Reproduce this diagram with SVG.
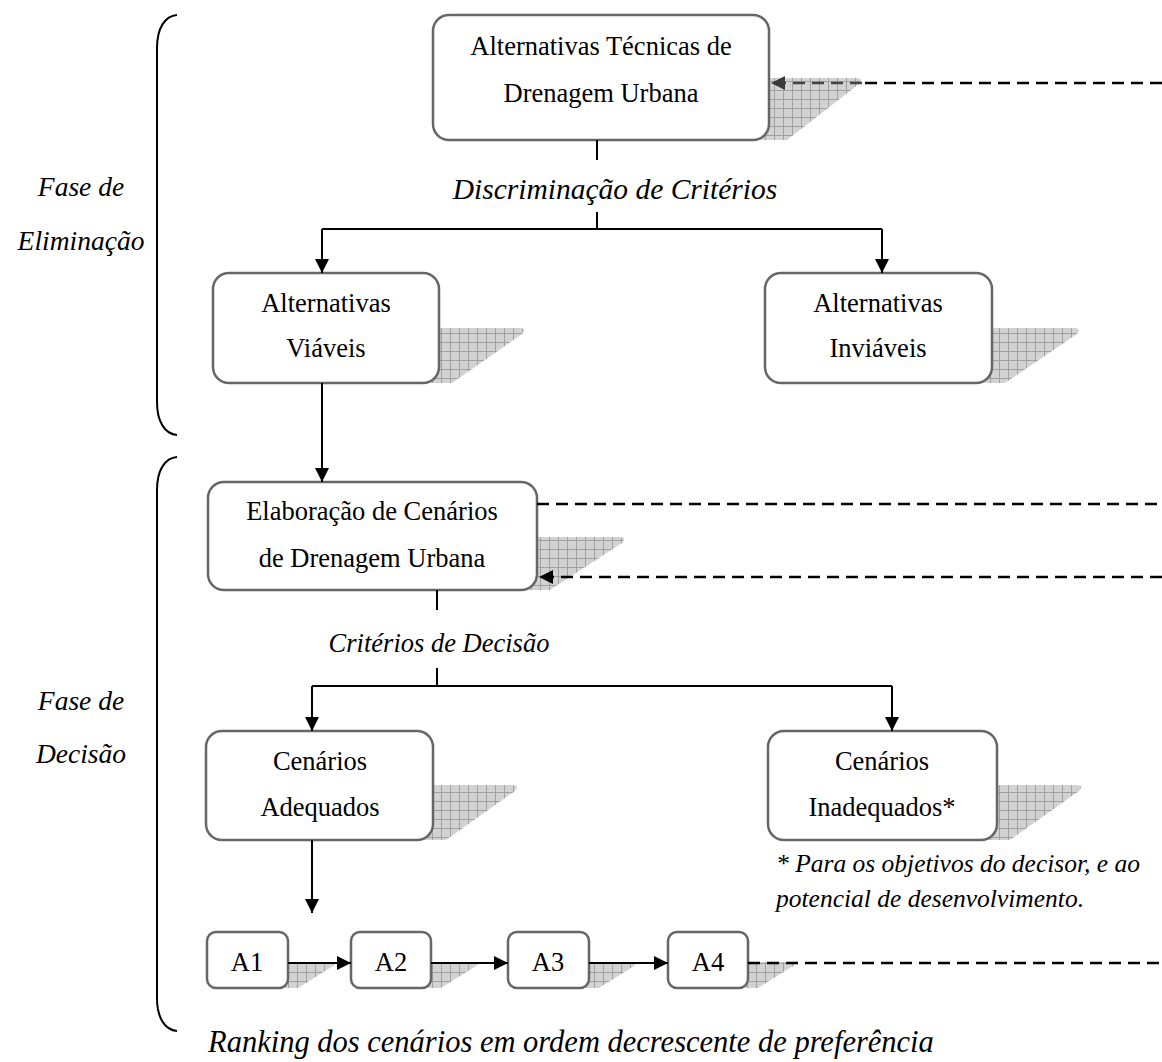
<svg xmlns="http://www.w3.org/2000/svg" width="1162" height="1062" viewBox="0 0 1162 1062">
  <style>
    .box { fill: #ffffff; stroke: #666666; stroke-width: 2.5; }
    .shadow { fill: url(#grid); }
    .t { font-family: "Liberation Serif", "Times New Roman", serif; font-size: 26.5px; fill: #000; text-anchor: middle; }
    .it { font-family: "Liberation Serif", "Times New Roman", serif; font-size: 27.5px; font-style: italic; fill: #000; }
    .mid { text-anchor: middle; }
    .line { fill: none; stroke: #000; stroke-width: 2; }
    .arrow { marker-end: url(#head); }
    .dash { fill: none; stroke: #000; stroke-width: 2.6; stroke-dasharray: 12 7; }
    .brace { fill: none; stroke: #000; stroke-width: 2; }
  </style>
  <defs>
    <pattern id="grid" width="9" height="9" patternUnits="userSpaceOnUse">
      <rect width="9" height="9" fill="#d2d2d2"/>
      <path d="M0 0.5H9M0.5 0V9" stroke="#9c9c9c" stroke-width="0.9"/>
    </pattern>
    <marker id="head" viewBox="0 0 14 14" refX="14" refY="7" markerWidth="14" markerHeight="14" markerUnits="userSpaceOnUse" orient="auto">
      <path d="M0 0L14 7L0 14Z" fill="#000"/>
    </marker>
    <marker id="headGray" viewBox="0 0 14 14" refX="14" refY="7" markerWidth="14" markerHeight="14" markerUnits="userSpaceOnUse" orient="auto">
      <path d="M0 0L14 7L0 14Z" fill="#3a3a3a"/>
    </marker>
  </defs>

  <!-- phase braces and labels -->
  <g id="phase-elimination">
    <path class="brace" d="M177 15C165 16 157 28 157 48V402C157 422 165 434 177 435"/>
    <text class="it mid" x="81" y="196">Fase de</text>
    <text class="it mid" x="81" y="250">Eliminação</text>
  </g>
  <g id="phase-decision">
    <path class="brace" d="M177 457C165 458 157 470 157 490V998C157 1018 165 1030 177 1031"/>
    <text class="it mid" x="81" y="710">Fase de</text>
    <text class="it mid" x="81" y="763">Decisão</text>
  </g>

  <!-- nodes -->
  <g id="alternativas-tecnicas">
    <path class="shadow" d="M755 78H856Q864 78 859 84L787 140H755Z"/>
    <rect class="box" x="433" y="15" width="336" height="125" rx="16"/>
    <text class="t" x="601" y="55">Alternativas Técnicas de</text>
    <text class="t" x="601" y="102">Drenagem Urbana</text>
  </g>
  <g id="alternativas-viaveis">
    <path class="shadow" d="M425 328H519Q527 328 522 334L452 383H425Z"/>
    <rect class="box" x="213" y="273" width="226" height="110" rx="16"/>
    <text class="t" x="326" y="312">Alternativas</text>
    <text class="t" x="326" y="357">Viáveis</text>
  </g>
  <g id="alternativas-inviaveis">
    <path class="shadow" d="M978 328H1074Q1082 328 1077 334L1005 383H978Z"/>
    <rect class="box" x="765" y="273" width="227" height="110" rx="16"/>
    <text class="t" x="878" y="312">Alternativas</text>
    <text class="t" x="878" y="357">Inviáveis</text>
  </g>
  <g id="elaboracao-cenarios">
    <path class="shadow" d="M523 537H619Q627 537 622 543L550 590H523Z"/>
    <rect class="box" x="208" y="482" width="329" height="108" rx="16"/>
    <text class="t" x="372" y="520">Elaboração de Cenários</text>
    <text class="t" x="372" y="567">de Drenagem Urbana</text>
  </g>
  <g id="cenarios-adequados">
    <path class="shadow" d="M419 785H512Q520 785 515 791L446 840H419Z"/>
    <rect class="box" x="206" y="731" width="227" height="109" rx="16"/>
    <text class="t" x="320" y="770">Cenários</text>
    <text class="t" x="320" y="816">Adequados</text>
  </g>
  <g id="cenarios-inadequados">
    <path class="shadow" d="M983 785H1076Q1084 785 1079 791L1010 840H983Z"/>
    <rect class="box" x="768" y="731" width="229" height="109" rx="16"/>
    <text class="t" x="882" y="770">Cenários</text>
    <text class="t" x="882" y="816">Inadequados*</text>
  </g>
  <g id="a1">
    <path class="shadow" d="M278 962H331Q337 962 333 966L298 988H278Z"/>
    <rect class="box" x="207" y="932" width="81" height="56" rx="9"/>
    <text class="t" x="247" y="971">A1</text>
  </g>
  <g id="a2">
    <path class="shadow" d="M421 962H474Q480 962 476 966L441 988H421Z"/>
    <rect class="box" x="351" y="932" width="80" height="56" rx="9"/>
    <text class="t" x="391" y="971">A2</text>
  </g>
  <g id="a3">
    <path class="shadow" d="M579 962H632Q638 962 634 966L599 988H579Z"/>
    <rect class="box" x="508" y="932" width="81" height="56" rx="9"/>
    <text class="t" x="548" y="971">A3</text>
  </g>
  <g id="a4">
    <path class="shadow" d="M738 962H791Q797 962 793 966L758 988H738Z"/>
    <rect class="box" x="668" y="932" width="80" height="56" rx="9"/>
    <text class="t" x="708" y="971">A4</text>
  </g>

  <!-- connectors -->
  <g id="connectors">
    <path class="line" d="M597 140V160M597 212V229M322 229H882"/>
    <path class="line arrow" d="M322 229V273"/>
    <path class="line arrow" d="M882 229V273"/>
    <path class="line arrow" d="M322 383V482"/>
    <path class="line" d="M437 590V610M437 668V686M312 686H892"/>
    <path class="line arrow" d="M312 686V731"/>
    <path class="line arrow" d="M892 686V731"/>
    <path class="line arrow" d="M312 840V913"/>
    <path class="line arrow" d="M288 963H351"/>
    <path class="line arrow" d="M431 963H508"/>
    <path class="line arrow" d="M589 963H668"/>
    <path class="dash" d="M1162 83H862"/>
    <path class="dash" d="M862 83H771" style="stroke:#454545" marker-end="url(#headGray)"/>
    <path class="dash" d="M537 504H1162"/>
    <path class="dash" d="M1162 577H539" marker-end="url(#head)"/>
    <path class="dash" d="M748 963H1162"/>
  </g>

  <!-- connector labels and notes -->
  <text class="it mid" x="615" y="199" style="font-size:29.5px">Discriminação de Critérios</text>
  <text class="it mid" x="439" y="652" style="font-size:26.5px">Critérios de Decisão</text>
  <text class="it" x="776" y="872" style="font-size:25.5px">* Para os objetivos do decisor, e ao</text>
  <text class="it" x="776" y="907" style="font-size:25.5px">potencial de desenvolvimento.</text>
  <text class="it" x="208" y="1052" style="font-size:30.5px">Ranking dos cenários em ordem decrescente de preferência</text>
</svg>
